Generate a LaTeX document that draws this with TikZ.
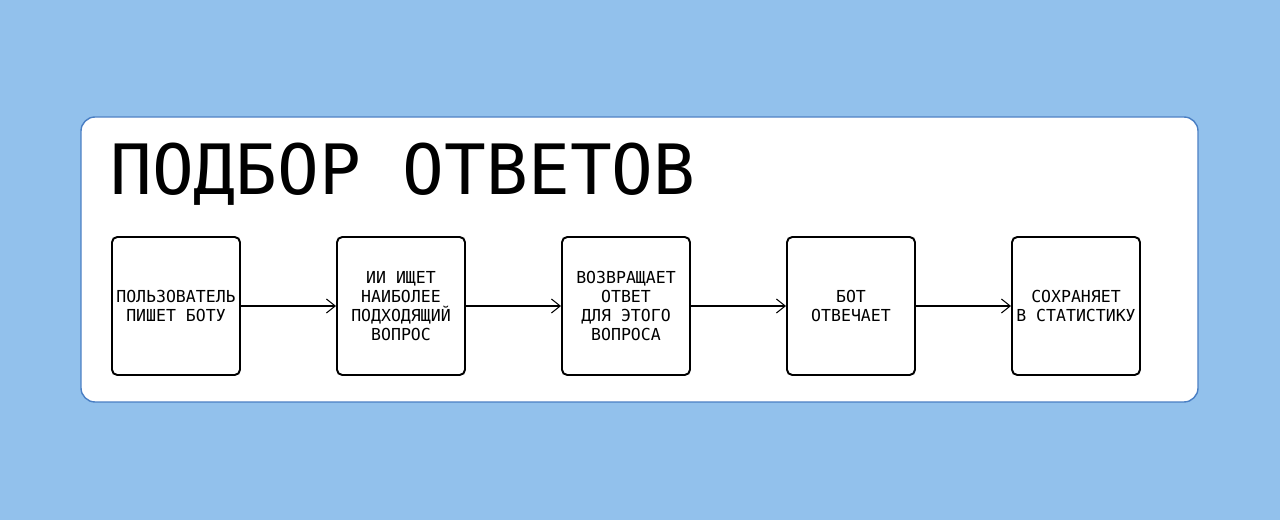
\documentclass[tikz,border=0pt]{standalone}
\usepackage{fontspec}
\setmainfont{DejaVu Sans Mono}
\usetikzlibrary{arrows.meta}
\definecolor{bgblue}{HTML}{92C1EC}
\definecolor{edgeblue}{HTML}{4A7FC4}
\begin{document}
\begin{tikzpicture}
[
stage/.style={draw, rounded corners=3pt, line width=1.1pt, minimum width=2.56cm, minimum height=2.76cm, align=center, inner sep=0pt, font=\fontsize{9.4}{10.8}\selectfont},
flow/.style={-{Straight Barb[length=5pt,width=8pt]}, line width=0.6pt}
]
\fill[bgblue] (0,0) rectangle (25.6,10.4);
\useasboundingbox (0,0) rectangle (25.6,10.4);
\draw[edgeblue, fill=white, rounded corners=8pt, line width=0.8pt] (1.62,2.36) rectangle (23.96,8.06);
\node[anchor=base west, inner sep=0pt, font=\fontsize{39.5}{40}\selectfont] (title) at (2.2,6.5) {ПОДБОР ОТВЕТОВ};

\node[stage] (user) at ( 3.52, 4.28) {ПОЛЬЗОВАТЕЛЬ\\ПИШЕТ БОТУ};
\node[stage] (ai)   at ( 8.02, 4.28) {ИИ ИЩЕТ\\НАИБОЛЕЕ\\ПОДХОДЯЩИЙ\\ВОПРОС};
\node[stage] (back) at (12.52, 4.28) {ВОЗВРАЩАЕТ\\ОТВЕТ\\ДЛЯ ЭТОГО\\ВОПРОСА};
\node[stage] (bot)  at (17.02, 4.28) {БОТ\\ОТВЕЧАЕТ};
\node[stage] (save) at (21.52, 4.28) {СОХРАНЯЕТ\\В СТАТИСТИКУ};

\draw[flow] (user) to (ai);
\draw[flow] (ai) to (back);
\draw[flow] (back) to (bot);
\draw[flow] (bot) to (save);
\end{tikzpicture}
\end{document}
